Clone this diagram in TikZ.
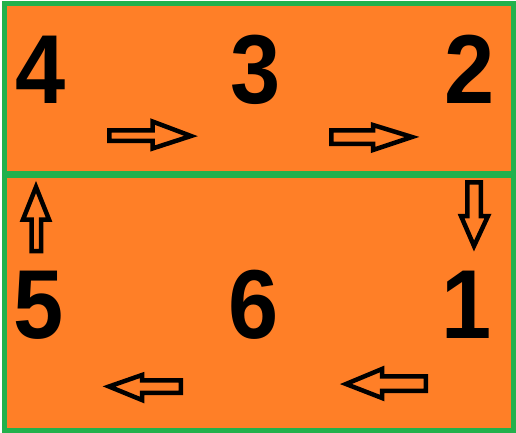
\documentclass[tikz,border=0pt]{standalone}
\usepackage{fontspec}
\setmainfont{Liberation Sans}
\newfontfamily\digitfont[FakeStretch=0.92]{Liberation Sans}
\definecolor{bgorange}{HTML}{FF7F27}
\definecolor{frgreen}{HTML}{22B14C}
\begin{document}
\begin{tikzpicture}[x=1pt,y=-1pt,
  panel/.style={fill=bgorange,draw=frgreen,line width=5pt},
  digit/.style={anchor=base,inner sep=0pt,font=\digitfont\fontsize{98}{98}\selectfont\bfseries},
  blockarrow/.style={draw=black,fill=bgorange,line width=4.5pt,line join=miter}]
\useasboundingbox (0,0) rectangle (516,433);
\fill[white] (0,0) rectangle (516,433);
% panels
\draw[panel] (4,3.5) rectangle (513.5,173);
\draw[panel] (4,175.5) rectangle (513,430.5);
% digits
\node[digit] (n4) at (40.5,103) {4};
\node[digit] (n3) at (256,103) {3};
\node[digit] (n2) at (469.5,103) {2};
\node[digit] (n5) at (38.5,338) {5};
\node[digit] (n6) at (253.5,338) {6};
\node[digit] (n1) at (467,338) {1};
% arrows
\draw[blockarrow] (109.25,130.25) -- (152.5,130.25) -- (152.5,121.5) -- (191,136) -- (152.5,148.5) -- (152.5,140.75) -- (109.25,140.75) -- cycle;
\draw[blockarrow] (331.25,130.25) -- (373,130.25) -- (373,125) -- (412,137) -- (373,150) -- (373,143.75) -- (331.25,143.75) -- cycle;
\draw[blockarrow] (180.75,380.25) -- (142,380.25) -- (142,375) -- (109,386.5) -- (142,400) -- (142,392.75) -- (180.75,392.75) -- cycle;
\draw[blockarrow] (425.75,376.25) -- (382,376.25) -- (382,369) -- (346,384) -- (382,398) -- (382,390.75) -- (425.75,390.75) -- cycle;
\draw[blockarrow] (31.5,251) -- (31.5,219.5) -- (23,219.5) -- (36,187) -- (49,219.5) -- (41,219.5) -- (41,251) -- cycle;
\draw[blockarrow] (467.25,182.25) -- (467.25,216) -- (461,216) -- (474,246) -- (488,216) -- (480.75,216) -- (480.75,182.25) -- cycle;
\end{tikzpicture}
\end{document}
